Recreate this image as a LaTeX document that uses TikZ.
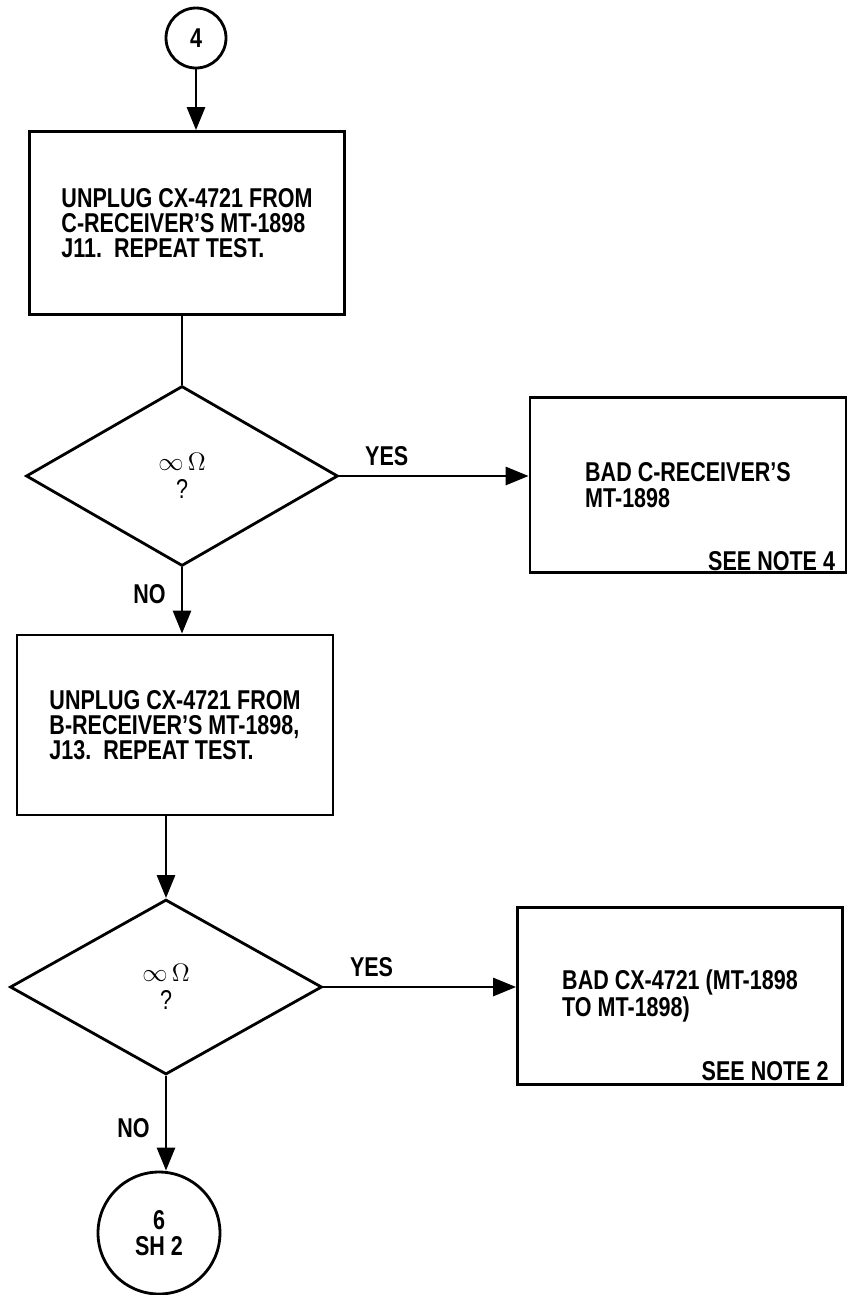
\documentclass[tikz,border=0pt]{standalone}
\usepackage{fontspec}
\setmainfont{Liberation Sans}[FakeStretch=0.79]
\usetikzlibrary{positioning,arrows.meta,shapes.geometric}

\begin{document}
\begin{tikzpicture}[x=0.02cm,y=-0.02cm,line width=1.6pt,>={Triangle[width=0.36cm,length=0.46cm]},
  font=\fontsize{15.5}{14.4}\selectfont\bfseries,
  act/.style={draw,align=left,inner sep=0pt},
  dec/.style={diamond,draw,align=center,inner sep=0pt,minimum width=6.24cm,minimum height=3.6cm,
    font=\fontsize{15.5}{16}\selectfont\mdseries},
  conn/.style={circle,draw,align=center,inner sep=0pt},
  note/.style={anchor=base east,inner sep=0pt},
  lbl/.style={inner sep=0pt}]
\useasboundingbox (0,0) rectangle (848,1295);
\node[conn,minimum size=1.2cm] (c4) at (196,38) {4};
\node[act,minimum width=6.3cm,minimum height=3.66cm] (unplugc) at (187,223)
  {UNPLUG CX-4721 FROM\\C-RECEIVER'S MT-1898\\J11.\ \ REPEAT TEST.};
\node[dec] (test1) at (182,476) {$\infty\,\Omega$\\?};
\node[act,minimum width=6.32cm,minimum height=3.5cm] (badc) at (688,485)
  {BAD C-RECEIVER'S\\MT-1898};
\node[note] (note4) at ([xshift=-0.22cm,yshift=0.06cm]badc.south east) {SEE NOTE 4};
\node[act,minimum width=6.32cm,minimum height=3.6cm] (unplugb) at (175,725)
  {UNPLUG CX-4721 FROM\\B-RECEIVER'S MT-1898,\\J13.\ \ REPEAT TEST.};
\node[dec,minimum height=3.5cm] (test2) at (166,987) {$\infty\,\Omega$\\?};
\node[act,minimum width=6.5cm,minimum height=3.54cm] (badcx) at (680,996)
  {BAD CX-4721 (MT-1898\\TO MT-1898)};
\node[note] (note2) at ([xshift=-0.28cm,yshift=0.1cm]badcx.south east) {SEE NOTE 2};
\node[conn,minimum size=2.44cm] (c6) at (159,1233) {6\\SH 2};
% connectors
\draw[->] (c4.south) -- (c4.south |- unplugc.north);
\draw (test1.north |- unplugc.south) -- (test1.north);
\draw[->] (test1.east) -- node[lbl,pos=0.25,above=0.18cm] {YES} (test1.east -| badc.west);
\draw[->] (test1.south) -- node[lbl,pos=0.4,left=0.3cm] {NO} (test1.south |- unplugb.north);
\draw[->] (test2.north |- unplugb.south) -- (test2.north);
\draw[->] (test2.east) -- node[lbl,pos=0.25,above=0.18cm] {YES} (test2.east -| badcx.west);
\draw[->] (test2.south) -- node[lbl,pos=0.55,left=0.3cm] {NO} (test2.south |- c6.north);
\end{tikzpicture}
\end{document}
